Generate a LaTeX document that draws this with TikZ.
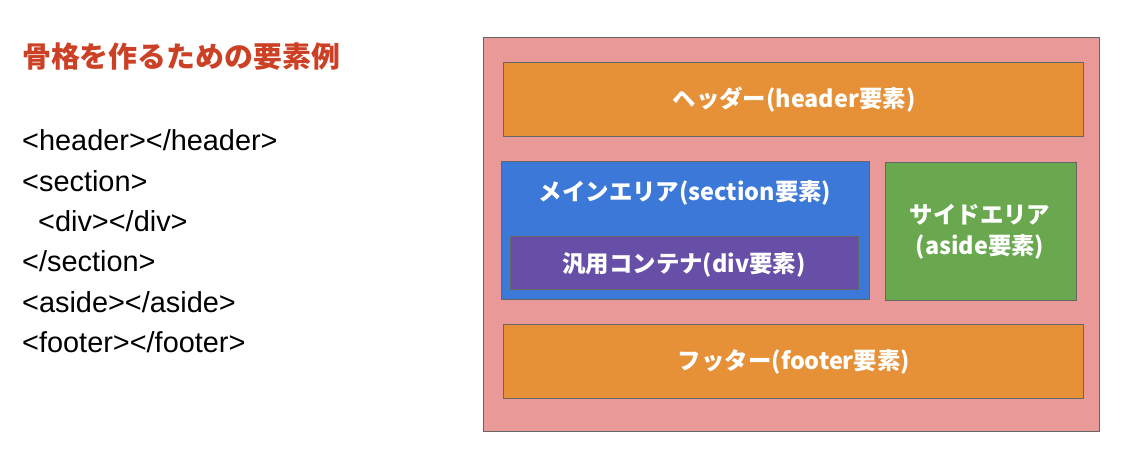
\documentclass[tikz,border=0pt]{standalone}
\usepackage{fontspec}
\setmainfont{Liberation Sans}
\newfontfamily\cjk{Noto Sans CJK JP}
\definecolor{outerfill}{HTML}{EA9999}
\definecolor{hdr}{HTML}{E69138}
\definecolor{sec}{HTML}{3C78D8}
\definecolor{dv}{HTML}{674EA7}
\definecolor{asd}{HTML}{6AA84F}
\definecolor{ttl}{HTML}{CC4125}
\definecolor{edge}{HTML}{666666}
\begin{document}
\begin{tikzpicture}[x=1bp,y=-1bp,
  box/.style={draw=edge, line width=1bp},
  lbl/.style={text=white, font=\cjk\bfseries\fontsize{23.5}{31}\selectfont, align=center, inner sep=0pt},
  code/.style={anchor=base west, inner sep=0pt, font=\fontsize{29}{33}\selectfont}]
\useasboundingbox (0,0) rectangle (1128,460);
% left side
\node[anchor=west, inner sep=0pt, text=ttl, font=\cjk\bfseries\fontsize{29}{33}\selectfont] (title) at (22,57) {骨格を作るための要素例};
\node[code] (c1) at (22,151) {<header></header>};
\node[code] (c2) at (22,191.5) {<section>};
\node[code] (c3) at (38,232) {<div></div>};
\node[code] (c4) at (22,272) {</section>};
\node[code] (c5) at (22,312.5) {<aside></aside>};
\node[code] (c6) at (22,353) {<footer></footer>};
% right side
\draw[box, fill=outerfill] (483,38) rectangle (1099,432);
\draw[box, fill=hdr] (503,63) rectangle (1083,137);
\draw[box, fill=sec] (501,162) rectangle (869,300);
\draw[box, fill=dv] (510,237) rectangle (858,290);
\draw[box, fill=asd] (885,163) rectangle (1076,301);
\draw[box, fill=hdr] (503,325) rectangle (1083,399);
\node[lbl] (hl) at (794,100) {ヘッダー(header要素)};
\node[lbl] (sl) at (685,193) {メインエリア(section要素)};
\node[lbl] (dl) at (684,265) {汎用コンテナ(div要素)};
\node[lbl] (al) at (980,232) {サイドエリア\\(aside要素)};
\node[lbl] (fl) at (794,362) {フッター(footer要素)};
\end{tikzpicture}
\end{document}
